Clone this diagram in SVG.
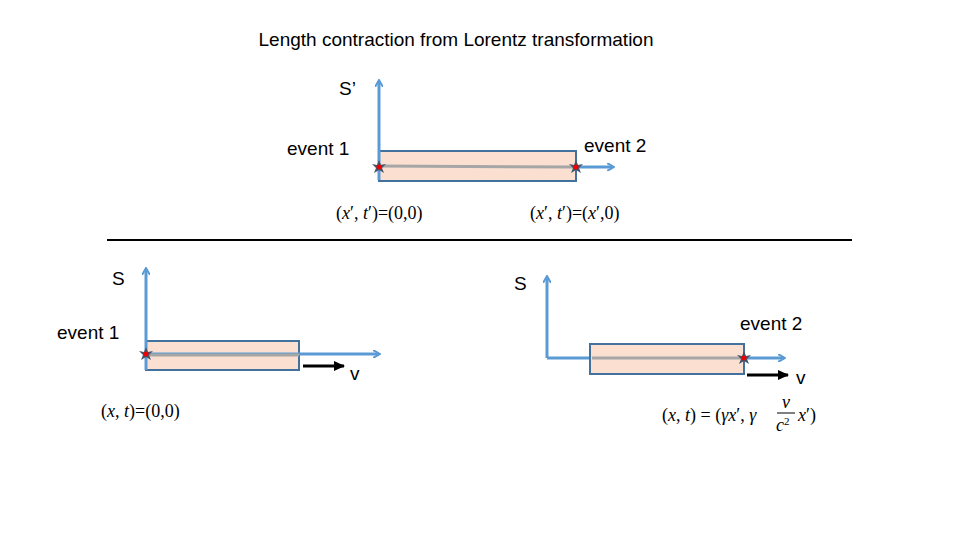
<svg xmlns="http://www.w3.org/2000/svg" width="960" height="540" viewBox="0 0 960 540">
<defs>
<marker id="ba" markerWidth="8" markerHeight="8" refX="6" refY="4" orient="auto" markerUnits="userSpaceOnUse"><path d="M0,0 L7,4 L0,8" fill="none" stroke="#5b9bd5" stroke-width="2"/></marker>
<marker id="ka" markerWidth="12" markerHeight="10" refX="10" refY="5" orient="auto" markerUnits="userSpaceOnUse"><path d="M0,0 L11,5 L0,10 Z" fill="#000"/></marker>
<g id="star"><path d="M0,-7 L2,-2 L7,-3 L3,1 L5,6 L0,3 L-5,6 L-3,1 L-7,-3 L-2,-2 Z" fill="#44546a"/><circle r="2.5" fill="#e00"/></g>
</defs>
<style>
.ax{stroke:#5b9bd5;stroke-width:3;fill:none}
.bar{fill:#fbe0d2;stroke:#41719c;stroke-width:2}
.gl{stroke:#a6a6a6;stroke-width:3}
.t{font-family:"Liberation Sans",Arial,sans-serif;font-size:19px;fill:#000}
.m{font-family:"Liberation Serif","Times New Roman",serif;font-size:18px;fill:#000}
</style>
<rect width="960" height="540" fill="#fff"/>
<text class="t" x="456" y="46" text-anchor="middle">Length contraction from Lorentz transformation</text>
<line x1="107" y1="240" x2="852" y2="240" stroke="#000" stroke-width="2"/>
<g id="frameSprime">
<rect class="bar" x="379" y="151" width="197" height="30"/>
<line class="gl" x1="379" y1="166" x2="576" y2="167"/>
<path class="ax" d="M379,180 V81" marker-end="url(#ba)"/>
<path class="ax" d="M576,167 H613" marker-end="url(#ba)"/>
<use href="#star" x="379" y="167"/><use href="#star" x="576" y="167"/>
<text class="t" x="339" y="95">S’</text>
<text class="t" x="287" y="155">event 1</text>
<text class="t" x="584" y="152">event 2</text>
<text class="m" x="336" y="219">(<tspan font-style="italic">x</tspan>′, <tspan font-style="italic">t</tspan>′)=(0,0)</text>
<text class="m" x="530" y="219">(<tspan font-style="italic">x</tspan>′, <tspan font-style="italic">t</tspan>′)=(<tspan font-style="italic">x</tspan>′,0)</text>
</g>
<g id="frameS1">
<rect class="bar" x="146" y="341" width="153" height="29"/>
<path class="ax" d="M146,370 V269" marker-end="url(#ba)"/>
<path class="ax" d="M146,354 H379" marker-end="url(#ba)"/>
<line class="gl" x1="148" y1="355" x2="299" y2="355" stroke-width="2"/>
<use href="#star" x="146" y="354"/>
<path d="M303,366 H344" stroke="#000" stroke-width="3" marker-end="url(#ka)"/>
<text class="t" x="112" y="285">S</text>
<text class="t" x="57" y="339">event 1</text>
<text class="t" x="350" y="380">v</text>
<text class="m" x="101" y="417">(<tspan font-style="italic">x</tspan>, <tspan font-style="italic">t</tspan>)=(0,0)</text>
</g>
<g id="frameS2">
<path class="ax" d="M547,358 V277" marker-end="url(#ba)"/>
<path class="ax" d="M547,358 H784" marker-end="url(#ba)"/>
<rect class="bar" x="590" y="344" width="154" height="30"/>
<line class="gl" x1="592" y1="358" x2="744" y2="358" stroke-width="2"/>
<use href="#star" x="744" y="358"/>
<path d="M747,375 H788" stroke="#000" stroke-width="3" marker-end="url(#ka)"/>
<text class="t" x="514" y="290">S</text>
<text class="t" x="740" y="330">event 2</text>
<text class="t" x="796" y="384">v</text>
<text class="m" x="662" y="421">(<tspan font-style="italic">x</tspan>, <tspan font-style="italic">t</tspan>) = (<tspan font-style="italic">γx</tspan>′, <tspan font-style="italic">γ</tspan></text>
<text class="m" x="786" y="408" text-anchor="middle" font-style="italic" font-size="16">v</text>
<line x1="777" y1="413" x2="795" y2="413" stroke="#000" stroke-width="1"/>
<text class="m" x="776" y="431" font-style="italic" font-size="16">c<tspan font-size="11" dy="-6" font-style="normal">2</tspan></text>
<text class="m" x="798" y="421"><tspan font-style="italic">x</tspan>′)</text>
</g>
</svg>
